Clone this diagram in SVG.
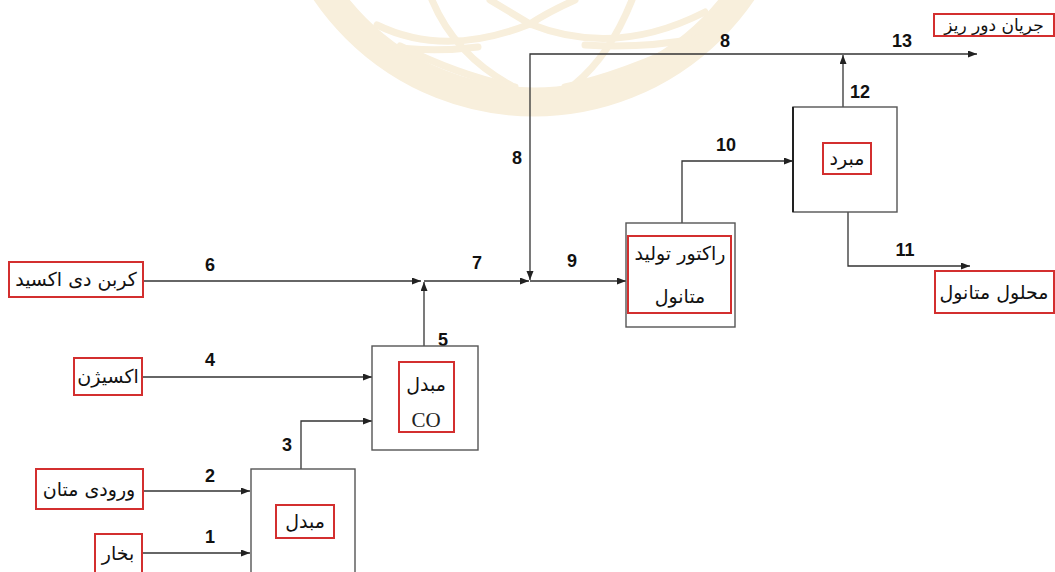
<svg xmlns="http://www.w3.org/2000/svg" width="1055" height="572" viewBox="0 0 1055 572">
<style>
.wm{fill:none;stroke:#f8efdc;stroke-linecap:round}
.box{fill:#fff;stroke:#555;stroke-width:1.4}
.red{fill:#fff;stroke:#d32f2f;stroke-width:2}
.fa{font-family:"DejaVu Sans",sans-serif;font-size:19px;fill:#111;text-anchor:middle}
.fs{font-size:17px}
.num{font-family:"Liberation Sans",Arial,sans-serif;font-weight:bold;font-size:18px;fill:#111;text-anchor:middle}
.co{font-family:"Liberation Serif","Times New Roman",serif;font-size:21px;fill:#222;text-anchor:middle}
.ln{fill:none;stroke:#333;stroke-width:1.3}
</style>
<defs>
<marker id="ah" markerUnits="userSpaceOnUse" markerWidth="10" markerHeight="8" refX="9" refY="3.5" orient="auto">
<path d="M0,0 L9,3.5 L0,7 z" fill="#222"/>
</marker>
</defs>
<rect width="1055" height="572" fill="#fff"/>
<g id="watermark">
<circle class="wm" cx="534" cy="-150" r="252" stroke-width="29"/>
<path class="wm" stroke-width="7" d="M377,25 Q445,58 530,24"/>
<path class="wm" stroke-width="7" d="M530,24 Q615,58 705,12"/>
<path class="wm" stroke-width="7" d="M385,46 Q430,53 478,47"/>
<path class="wm" stroke-width="7" d="M585,45 Q640,49 700,38"/>
<path class="wm" stroke-width="7" d="M432,0 Q455,55 512,86"/>
<path class="wm" stroke-width="7" d="M632,0 Q610,55 575,84"/>
<path class="wm" stroke-width="7" d="M400,46 Q460,76 515,87"/>
<path class="wm" stroke-width="7" d="M700,38 Q620,76 565,87"/>
<path class="wm" stroke-width="7" d="M490,0 Q515,15 530,24 Q548,12 575,0"/>
</g>
<g id="connectors">
<path class="ln" d="M142,553 H250" marker-end="url(#ah)"/>
<path class="ln" d="M143,491 H250" marker-end="url(#ah)"/>
<path class="ln" d="M301,469 V421 H372" marker-end="url(#ah)"/>
<path class="ln" d="M142,377 H372" marker-end="url(#ah)"/>
<path class="ln" d="M424,346 V282" marker-end="url(#ah)"/>
<path class="ln" d="M143,281 H421" marker-end="url(#ah)"/>
<path class="ln" d="M424,281 H529" marker-end="url(#ah)"/>
<path class="ln" d="M843,54 H530 V280" marker-end="url(#ah)"/>
<path class="ln" d="M843,54 H977" marker-end="url(#ah)"/>
<path class="ln" d="M843,107 V55" marker-end="url(#ah)"/>
<path class="ln" d="M530,281 H626" marker-end="url(#ah)"/>
<path class="ln" d="M682,223 V161 H793" marker-end="url(#ah)"/>
<path class="ln" d="M848,212 V266 H970" marker-end="url(#ah)"/>
</g>
<g id="labels">
<text class="num" x="210" y="543">1</text>
<text class="num" x="210" y="482">2</text>
<text class="num" x="287" y="451">3</text>
<text class="num" x="210" y="366">4</text>
<text class="num" x="443" y="346">5</text>
<text class="num" x="210" y="271">6</text>
<text class="num" x="477" y="269">7</text>
<text class="num" x="725" y="47">8</text>
<text class="num" x="517" y="164">8</text>
<text class="num" x="572" y="267">9</text>
<text class="num" x="726" y="151">10</text>
<text class="num" x="905" y="256">11</text>
<text class="num" x="860" y="98">12</text>
<text class="num" x="902" y="47">13</text>
</g>
<g id="n-mobadel">
<rect class="box" x="251" y="469" width="104" height="112"/>
<rect class="red" x="276" y="505" width="58" height="33"/>
<text class="fa" x="305" y="528">مبدل</text>
</g>
<g id="n-co">
<rect class="box" x="372" y="346" width="106" height="104"/>
<rect class="red" x="399" y="362" width="55" height="70"/>
<text class="fa" x="426" y="391">مبدل</text>
<text class="co" x="426" y="427">CO</text>
</g>
<g id="n-reactor">
<rect class="box" x="626" y="223" width="109" height="104"/>
<rect class="red" x="628" y="236" width="103" height="77"/>
<text class="fa" x="680" y="260">راکتور تولید</text>
<text class="fa" x="680" y="303">متانول</text>
</g>
<g id="n-mobarred">
<rect class="box" x="793" y="107" width="104" height="105"/>
<line x1="793" y1="107" x2="793" y2="212" stroke="#222" stroke-width="2"/>
<rect class="red" x="823" y="143" width="48" height="31"/>
<text class="fa" x="847" y="165">مبرد</text>
</g>
<g id="n-co2">
<rect class="red" x="9" y="262" width="134" height="35"/>
<text class="fa" x="76" y="286">کربن دی اکسید</text>
</g>
<g id="n-oxygen">
<rect class="red" x="74" y="358" width="68" height="37"/>
<text class="fa" x="108" y="383">اکسیژن</text>
</g>
<g id="n-methane">
<rect class="red" x="36" y="469" width="107" height="40"/>
<text class="fa" x="89" y="496">ورودی متان</text>
</g>
<g id="n-steam">
<rect class="red" x="95" y="534" width="47" height="42"/>
<text class="fa" x="118" y="560">بخار</text>
</g>
<g id="n-purge">
<rect class="red" x="934" y="14" width="120" height="22"/>
<text class="fa fs" x="994" y="31">جریان دور ریز</text>
</g>
<g id="n-methanol">
<rect class="red" x="935" y="271" width="119" height="42"/>
<text class="fa" x="994" y="299">محلول متانول</text>
</g>
</svg>
